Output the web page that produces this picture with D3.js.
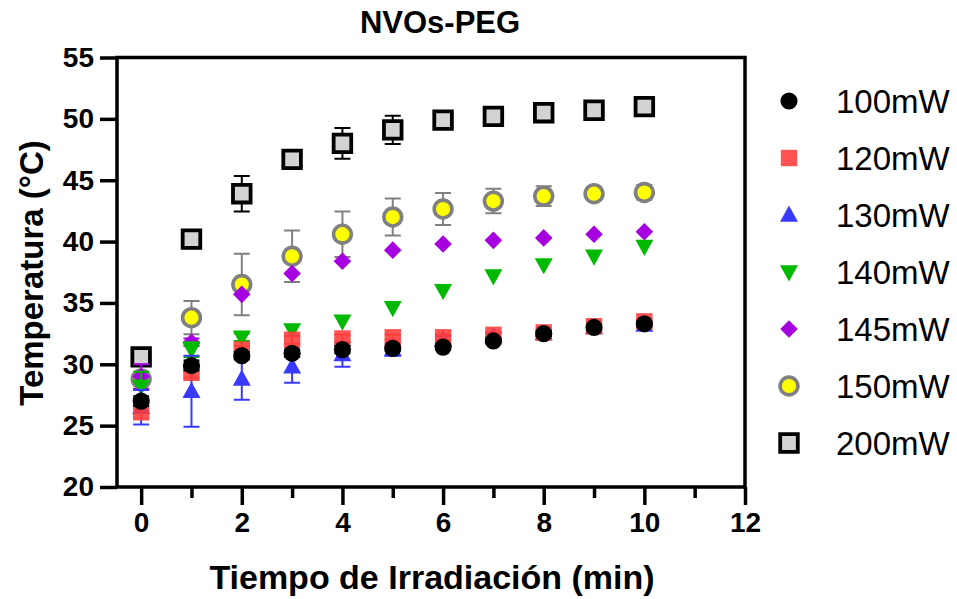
<!DOCTYPE html>
<html>
<head>
<meta charset="utf-8">
<script src="https://cdn.jsdelivr.net/npm/d3@7"></script>
<style>
  html, body { margin: 0; padding: 0; background: #ffffff; }
  svg { display: block; font-family: "Liberation Sans", Arial, sans-serif; }
</style>
</head>
<body>
<svg id="chart" width="957" height="599"></svg>
<script>
// Irradiation time (min)
const time = [0, 1, 2, 3, 4, 5, 6, 7, 8, 9, 10];

// Mean temperature (°C) and SD for each laser power
const t100 = [27.0, 29.9, 30.7, 30.9, 31.2, 31.3, 31.4, 31.9, 32.5, 33.0, 33.3];
const e100 = [0.4, 0.4, 0.3, 0.3, 0.3, 0.2, 0.2, 0.2, 0.2, 0.2, 0.2];
const t120 = [26.2, 29.3, 31.2, 32.0, 32.1, 32.2, 32.2, 32.4, 32.6, 33.1, 33.5];
const e120 = [0.7, 0.4, 0.3, 0.3, 0.3, 0.2, 0.2, 0.2, 0.2, 0.2, 0.2];
const t130 = [26.5, 27.8, 28.8, 29.8, 30.8, 31.2, 32.0, 32.3, 32.5, 33.0, 33.2];
const e130 = [1.4, 2.9, 1.7, 1.3, 1.0, 0.5, 0.3, 0.2, 0.2, 0.2, 0.2];
const t140 = [28.2, 31.2, 32.2, 32.8, 33.5, 34.6, 36.0, 37.2, 38.1, 38.8, 39.6];
const e140 = [1.2, 0.6, 0.3, 0, 0, 0, 0, 0, 0, 0, 0];
const t145 = [29.0, 31.8, 35.7, 37.4, 38.4, 39.3, 39.8, 40.1, 40.3, 40.6, 40.8];
const e145 = [1.0, 0.3, 0, 0, 0, 0, 0, 0, 0, 0, 0];
const t150 = [28.8, 33.8, 36.5, 38.8, 40.6, 42.0, 42.65, 43.3, 43.7, 43.9, 44.0];
const e150 = [0.5, 1.35, 2.5, 2.1, 1.85, 1.5, 1.3, 1.0, 0.8, 0.5, 0.6];
const t200 = [30.6, 40.2, 43.9, 46.7, 48.0, 49.1, 49.9, 50.2, 50.5, 50.7, 51.0];
const e200 = [0.3, 0.4, 1.45, 0.5, 1.25, 1.15, 0.5, 0.3, 0.3, 0.3, 0.3];

const seriesNames = ["100mW", "120mW", "130mW", "140mW", "145mW", "150mW", "200mW"];

const xTicks = [0, 2, 4, 6, 8, 10, 12];
const xMinorTicks = [1, 3, 5, 7, 9, 11];
const yTicks = [20, 25, 30, 35, 40, 45, 50, 55];

const chartTitle = "NVOs-PEG";
const xTitle = "Tiempo de Irradiación (min)";
const yTitle = "Temperatura (°C)";

// Marker styling per series
const styles = {
  "100mW": { shape: "circle",  fill: "#000000", stroke: "none",    sw: 0,   err: "#000000", r: 8.6, op: 1 },
  "120mW": { shape: "square",  fill: "#ff3a3a", stroke: "none",    sw: 0,   err: "#ff3a3a", r: 8.2, op: 0.88 },
  "130mW": { shape: "triUp",   fill: "#3a3aff", stroke: "none",    sw: 0,   err: "#3a3aff", r: 9,   op: 1 },
  "140mW": { shape: "triDown", fill: "#00b900", stroke: "none",    sw: 0,   err: "#00b900", r: 9,   op: 1 },
  "145mW": { shape: "diamond", fill: "#a600e0", stroke: "none",    sw: 0,   err: "#a600e0", r: 8.8, op: 1 },
  "150mW": { shape: "circle",  fill: "#ffff00", stroke: "#808080", sw: 3.6, err: "#808080", r: 8.9, op: 1 },
  "200mW": { shape: "square",  fill: "#d3d3d3", stroke: "#000000", sw: 3.8, err: "#000000", r: 8.8, op: 1 }
};

const series = [
  { name: "100mW", y: t100, e: e100 },
  { name: "120mW", y: t120, e: e120 },
  { name: "130mW", y: t130, e: e130 },
  { name: "140mW", y: t140, e: e140 },
  { name: "145mW", y: t145, e: e145 },
  { name: "150mW", y: t150, e: e150 },
  { name: "200mW", y: t200, e: e200 }
];

const svg = d3.select("#chart");

const mLeft = 117, mRight = 745, mTop = 57.5, mBottom = 487;
const x = d3.scaleLinear().domain([-0.48, 12]).range([mLeft, mRight]);
const y = d3.scaleLinear().domain([20, 55]).range([mBottom, mTop]);

function shapePath(shape, r) {
  if (shape === "square") return `M${-r},${-r}H${r}V${r}H${-r}Z`;
  if (shape === "triUp") return `M0,${-r * 1.05}L${r},${r * 0.75}L${-r},${r * 0.75}Z`;
  if (shape === "triDown") return `M0,${r * 1.05}L${r},${-r * 0.75}L${-r},${-r * 0.75}Z`;
  if (shape === "diamond") return `M0,${-r}L${r},0L0,${r}L${-r},0Z`;
  return null;
}

function drawMarker(g, st, cx, cy) {
  if (st.shape === "circle") {
    g.append("circle").attr("cx", cx).attr("cy", cy).attr("r", st.r)
      .attr("fill", st.fill).attr("fill-opacity", st.op)
      .attr("stroke", st.stroke).attr("stroke-width", st.sw);
  } else {
    g.append("path").attr("d", shapePath(st.shape, st.r))
      .attr("transform", `translate(${cx},${cy})`)
      .attr("fill", st.fill).attr("fill-opacity", st.op)
      .attr("stroke", st.stroke).attr("stroke-width", st.sw)
      .attr("stroke-linejoin", "miter");
  }
}

// Axes
const xAxis = d3.axisBottom(x).tickValues(xTicks).tickSize(18).tickPadding(7).tickFormat(d3.format("d"));
const xMinor = d3.axisBottom(x).tickValues(xMinorTicks).tickSize(11).tickFormat("");
const yAxis = d3.axisLeft(y).tickValues(yTicks).tickSize(17).tickPadding(6).tickFormat(d3.format("d"));

const gx = svg.append("g").attr("transform", `translate(0,${mBottom})`).call(xAxis);
const gxm = svg.append("g").attr("transform", `translate(0,${mBottom})`).call(xMinor);
const gy = svg.append("g").attr("transform", `translate(${mLeft},0)`).call(yAxis);

[gx, gxm, gy].forEach(g => {
  g.select(".domain").remove();
  g.selectAll(".tick line").attr("stroke", "#000").attr("stroke-width", 3.5);
  g.selectAll(".tick text").attr("fill", "#000").attr("font-size", 28).attr("font-weight", "bold")
    .attr("font-family", "'Liberation Sans', Arial, sans-serif");
});

// Frame
const frame = svg.append("g").attr("fill", "none").attr("stroke", "#000").attr("stroke-width", 3.5);
frame.append("path").attr("d", `M${mLeft},${mTop}V${mBottom}H${mRight}V${mTop}H${mLeft}`)
  .attr("stroke-linecap", "square");

// Error bars and markers (higher power drawn first)
const plot = svg.append("g");
series.slice().reverse().forEach(s => {
  const st = styles[s.name];
  const g = plot.append("g");
  time.forEach((t, i) => {
    if (!s.e[i]) return;
    const cx = x(t);
    const y1 = y(s.y[i] + s.e[i]), y0 = y(s.y[i] - s.e[i]);
    g.append("path")
      .attr("d", `M${cx},${y1}V${y0}M${cx - 8},${y1}H${cx + 8}M${cx - 8},${y0}H${cx + 8}`)
      .attr("stroke", st.err).attr("stroke-width", 2).attr("fill", "none")
      .attr("stroke-opacity", st.op);
  });
  time.forEach((t, i) => drawMarker(g, st, x(t), y(s.y[i])));
});

// Titles
svg.append("text").attr("x", 440).attr("y", 33).attr("text-anchor", "middle")
  .attr("font-size", 31).attr("font-weight", "bold").text(chartTitle);
svg.append("text").attr("x", 432).attr("y", 589).attr("text-anchor", "middle")
  .attr("font-size", 34).attr("font-weight", "bold").text(xTitle);
svg.append("text").attr("transform", "translate(43,273) rotate(-90)").attr("text-anchor", "middle")
  .attr("font-size", 33).attr("font-weight", "bold").text(yTitle);

// Legend
const legend = svg.append("g");
seriesNames.forEach((name, i) => {
  const cy = 101 + i * 57;
  drawMarker(legend, styles[name], 789, cy);
  legend.append("text").attr("x", 836).attr("y", cy).attr("dy", "0.36em")
    .attr("font-size", 33).attr("fill", "#000").text(name);
});
</script>
</body>
</html>
